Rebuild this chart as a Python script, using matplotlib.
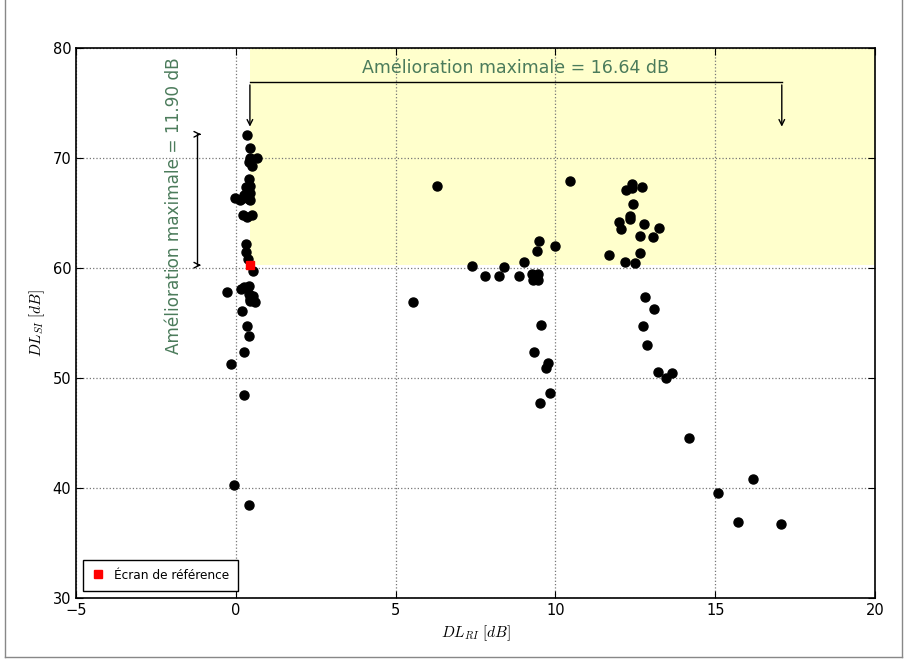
import numpy as np
import matplotlib
matplotlib.use("Agg")
import matplotlib.pyplot as plt
from matplotlib.lines import Line2D

# points DL_RI / DL_SI
dl_ri = [0.34, 0.45, 0.45, 0.67, 0.50, 0.41, 0.42, 0.44, 0.31, 0.44, 0.27, -0.04, 0.21, 0.42,
         0.13, 0.44, 0.23, 0.36, 0.50, 0.31, 0.33, 0.39, 0.54, -0.29, 0.15, 0.40, 0.25, 0.40,
         0.55, 0.45, 0.60, 0.45, 0.19, 0.36, 0.40, 0.24, 0.24, -0.06, 0.40, -0.16,
         6.29, 10.44, 9.48, 9.41, 9.97, 7.38, 8.38, 9.00, 7.79, 8.24, 8.85, 9.27, 9.46, 9.29,
         9.46, 9.35, 5.55, 9.55, 9.33, 9.77, 9.71, 9.83, 9.52,
         12.39, 12.21, 12.40, 12.72, 12.41, 12.34, 12.34, 12.00, 12.06, 12.77, 13.24, 12.65,
         13.06, 12.63, 11.67, 12.17, 12.50, 12.80, 13.09, 12.73, 12.85, 13.21, 13.63, 13.45,
         14.18, 16.18, 15.09, 15.72, 17.07]
dl_si = [72.1, 70.9, 70.0, 70.0, 69.3, 69.6, 68.1, 67.5, 67.4, 66.8, 66.6, 66.4, 66.4, 66.3,
         66.2, 66.2, 64.8, 64.6, 64.8, 62.2, 61.5, 60.8, 59.7, 57.8, 58.1, 58.4, 58.3, 57.6,
         57.5, 57.2, 56.9, 57.0, 56.1, 54.7, 53.8, 52.4, 48.5, 40.3, 38.5, 51.3,
         67.43, 67.9, 62.48, 61.57, 61.97, 60.18, 60.09, 60.55, 59.24, 59.3, 59.3, 59.45, 59.43, 58.9,
         58.9, 59.2, 56.9, 54.79, 52.36, 51.33, 50.88, 48.67, 47.7,
         67.64, 67.09, 67.24, 67.39, 65.82, 64.7, 64.5, 64.21, 63.55, 64.0, 63.67, 62.9,
         62.79, 61.39, 61.18, 60.57, 60.45, 57.39, 56.3, 54.7, 53.03, 50.52, 50.45, 50.03,
         44.52, 40.79, 39.52, 36.94, 36.73]

# ecran de reference
ref_ri = 0.44
ref_si = 60.26
gain_ri = 16.64
gain_si = 11.90

plt.rcParams['mathtext.fontset'] = 'cm'
plt.rcParams['xtick.direction'] = 'in'
plt.rcParams['ytick.direction'] = 'in'

fig = plt.figure(figsize=(9.05, 6.61), dpi=100)
ax = fig.add_axes([0.084, 0.0953, 0.883, 0.832])

# zone d'amelioration
ax.fill_between([ref_ri, 20], ref_si, 80, color='#ffffcc', zorder=0, linewidth=0)
ax.grid(True, linestyle=':', color='#777777', linewidth=0.9)
ax.set_axisbelow(True)

ax.plot(dl_ri, dl_si, 'o', color='black', markersize=6.5, zorder=3)
ax.plot([ref_ri], [ref_si], 's', color='red', markersize=5.5, markeredgecolor='red',
        zorder=4, label='Écran de référence')

vert = '#4b7b5b'
# fleche horizontale
y_top = 76.9
ax.plot([ref_ri, ref_ri + gain_ri], [y_top, y_top], color='black', linewidth=1)
for xx in [ref_ri, ref_ri + gain_ri]:
    ax.annotate('', xy=(xx, 72.6), xytext=(xx, y_top),
                arrowprops=dict(arrowstyle='->', color='black', lw=1))
ax.text(ref_ri + gain_ri / 2, 78.2, 'Amélioration maximale = %.2f dB' % gain_ri,
        color=vert, fontsize=12.5, ha='center', va='center')

# fleche verticale
x_v = -1.22
ax.plot([x_v, x_v], [ref_si, ref_si + gain_si], color='black', linewidth=1)
for yy in [ref_si, ref_si + gain_si]:
    ax.annotate('', xy=(x_v + 0.22, yy), xytext=(x_v, yy),
                arrowprops=dict(arrowstyle='->', color='black', lw=1))
ax.text(-1.95, 65.7, 'Amélioration maximale = %.2f dB' % gain_si,
        color=vert, fontsize=12.2, ha='center', va='center', rotation=90)

ax.set_xlim(-5, 20)
ax.set_ylim(30, 80)
ax.set_xticks([-5, 0, 5, 10, 15, 20])
ax.set_yticks([30, 40, 50, 60, 70, 80])
ax.tick_params(labelsize=10.5, top=True, right=True, length=5)
ax.set_xlabel(r'$DL_{RI}\ [dB]$', fontsize=11)
ax.set_ylabel(r'$DL_{SI}\ [dB]$', fontsize=11)

ax.legend(loc='lower left', numpoints=1, fontsize=8.7, fancybox=False,
          edgecolor='black', framealpha=1, borderaxespad=0.6, borderpad=0.75,
          handlelength=1.0, handletextpad=0.8)
for sp in ax.spines.values():
    sp.set_linewidth(1.2)

# cadre de la figure
for xs, ys in [([0.006, 0.006], [0.006, 1.0]), ([0.006, 0.997], [0.006, 0.006]),
               ([0.997, 0.997], [0.006, 1.0])]:
    fig.add_artist(Line2D(xs, ys, transform=fig.transFigure, color='#888888', linewidth=1))

fig.savefig('out.png', dpi=100)
